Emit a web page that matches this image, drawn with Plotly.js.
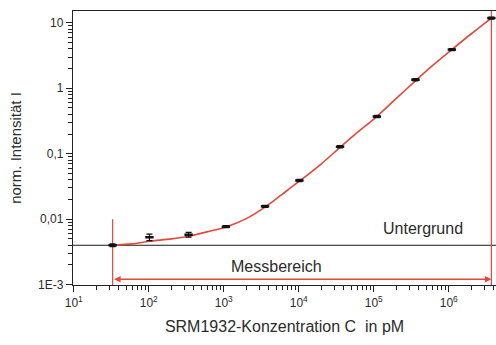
<!DOCTYPE html>
<html>
<head>
<meta charset="utf-8">
<script src="https://cdn.plot.ly/plotly-3.0.1.min.js"></script>
<style>html,body{margin:0;padding:0;background:#fff;}#chart{width:496px;height:345px;}</style>
</head>
<body>
<div id="chart"></div>
<script>
// Data
const conc = [33, 102, 340, 1070, 3550, 10200, 35500, 110000, 360000, 1100000, 3700000];
const intensity = [0.0040, 0.0053, 0.0058, 0.0077, 0.0157, 0.039, 0.128, 0.37, 1.35, 3.9, 11.8];
const errors = [0.0002, 0.0006, 0.00047, 0.0003, 0.0006, 0.0015, 0.005, 0.014, 0.05, 0.15, 0.4];

const fitConc = [33, 60, 102, 200, 340, 600, 1070, 2000, 3550, 6000, 10200, 20000, 35500, 60000, 110000, 200000, 360000, 600000, 1100000, 2000000, 3700000];
const fitValues = [0.0040, 0.0042, 0.0046, 0.0050, 0.0055, 0.0064, 0.0076, 0.0102, 0.0153, 0.024, 0.038, 0.070, 0.125, 0.21, 0.37, 0.70, 1.30, 2.2, 3.9, 6.8, 11.8];

const backgroundLevel = 0.004;
const measRange = [33, 3700000];
const measLeftTop = 0.0100;
const arrowLevel = 0.00121;

const yTickVals = [0.001, 0.01, 0.1, 1, 10];
const yTickText = ["1E-3", "0,01", "0,1", "1", "10"];
const xTickVals = [10, 100, 1000, 10000, 100000, 1000000];
const xTickText = ["10<sup>1</sup>", "10<sup>2</sup>", "10<sup>3</sup>", "10<sup>4</sup>", "10<sup>5</sup>", "10<sup>6</sup>"];

const xRange = [0.99, 6.63];
const yRange = [-3.005, 1.18];

function minorVals(lo, hi) {
  const out = [];
  for (let d = lo; d <= hi; d++) for (let m = 2; m <= 9; m++) out.push(m * Math.pow(10, d));
  return out;
}

const red = '#e4483a';
const txt = '#2b2b2b';

const traces = [
  { // background line
    x: [Math.pow(10, xRange[0]), Math.pow(10, xRange[1])],
    y: [backgroundLevel, backgroundLevel],
    mode: 'lines', line: {color: '#1a1a1a', width: 1}, hoverinfo: 'skip', cliponaxis: true
  },
  { // left range marker
    x: [measRange[0], measRange[0]],
    y: [measLeftTop, Math.pow(10, yRange[0])],
    mode: 'lines', line: {color: red, width: 1.2}
  },
  { // right range marker
    x: [measRange[1], measRange[1]],
    y: [Math.pow(10, yRange[1]), Math.pow(10, yRange[0])],
    mode: 'lines', line: {color: red, width: 1.2}
  },
  { // fit curve
    x: fitConc, y: fitValues, mode: 'lines',
    line: {color: red, width: 1.6, shape: 'spline', smoothing: 0.8}
  },
  { // data
    x: conc, y: intensity, mode: 'markers',
    marker: {color: '#111', size: 6, symbol: 'line-ew-open', line: {color: '#111', width: 2.5}},
    error_y: {type: 'data', array: errors, visible: true, color: '#111', thickness: 1.2, width: 3}
  }
];

const layout = {
  width: 496, height: 345,
  margin: {l: 73, r: 0, t: 11, b: 59.5},
  paper_bgcolor: '#fff', plot_bgcolor: '#fff',
  showlegend: false,
  font: {family: 'Liberation Sans, Arial, sans-serif', color: txt, size: 12},
  xaxis: {
    type: 'log', range: xRange,
    showgrid: false, zeroline: false,
    showline: true, linecolor: '#222', linewidth: 1.2, mirror: true,
    ticks: 'outside', ticklen: 6, tickwidth: 1.2, tickcolor: '#222',
    tickvals: xTickVals, ticktext: xTickText,
    tickfont: {size: 12, color: txt},
    minor: {tickvals: minorVals(1, 6), ticks: 'outside', ticklen: 4, tickwidth: 1, tickcolor: '#222'},
    title: {text: 'SRM1932-Konzentration C  in pM', font: {size: 16, color: txt}, standoff: 12}
  },
  yaxis: {
    type: 'log', range: yRange,
    showgrid: false, zeroline: false,
    showline: true, linecolor: '#222', linewidth: 1.2, mirror: false,
    ticks: 'outside', ticklen: 6, tickwidth: 1.2, tickcolor: '#222',
    tickvals: yTickVals, ticktext: yTickText,
    tickfont: {size: 12, color: txt},
    minor: {tickvals: minorVals(-3, 0), ticks: 'outside', ticklen: 4, tickwidth: 1, tickcolor: '#222'},
    title: {text: 'norm. Intensität I', font: {size: 15, color: txt}, standoff: 12}
  },
  annotations: [
    {x: 5.657, y: -2.142, xref: 'x', yref: 'y', text: 'Untergrund', showarrow: false,
     font: {size: 16, color: txt}},
    {x: 3.697, y: -2.723, xref: 'x', yref: 'y', text: 'Messbereich', showarrow: false,
     font: {size: 16, color: txt}},
    {x: Math.log10(measRange[1]), y: Math.log10(arrowLevel), ax: Math.log10(measRange[0]), ay: Math.log10(arrowLevel),
     xref: 'x', yref: 'y', axref: 'x', ayref: 'y', text: '', showarrow: true,
     arrowhead: 2, startarrowhead: 2, arrowside: 'end+start', arrowsize: 1, startarrowsize: 1,
     arrowwidth: 1.3, arrowcolor: red, standoff: 0, startstandoff: 0}
  ]
};

Plotly.newPlot('chart', traces, layout, {displayModeBar: false, staticPlot: true});
</script>
</body>
</html>
